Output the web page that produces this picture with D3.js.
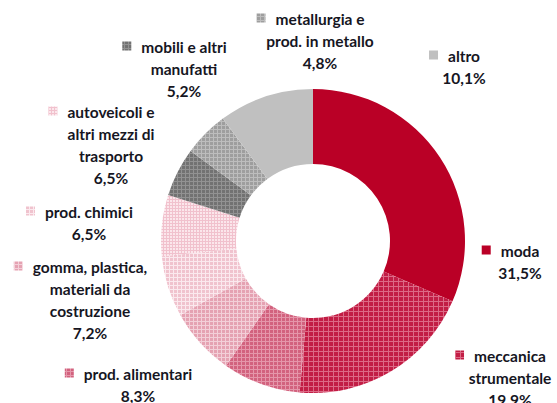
<!DOCTYPE html>
<html>
<head>
<meta charset="utf-8">
<script src="https://cdn.jsdelivr.net/npm/d3@7"></script>
<style>
  body { margin: 0; background: #fff; }
  svg text { font-family: Lato, "Open Sans", sans-serif; font-weight: bold; font-size: 15.5px; fill: #16161f; }
</style>
</head>
<body>
<div id="chart"></div>
<script>
// data, clockwise from 12 o'clock
var categories = ["moda", "meccanica strumentale", "prod. alimentari", "gomma, plastica, materiali da costruzione",
  "prod. chimici", "autoveicoli e altri mezzi di trasporto", "mobili e altri manufatti", "metallurgia e prod. in metallo", "altro"];
var values = [31.5, 19.9, 8.3, 7.2, 6.5, 6.5, 5.2, 4.8, 10.1];
var valueLabels = ["31,5%", "19,9%", "8,3%", "7,2%", "6,5%", "6,5%", "5,2%", "4,8%", "10,1%"];
var labelLines = [
  ["moda"],
  ["meccanica", "strumentale"],
  ["prod. alimentari"],
  ["gomma, plastica,", "materiali da", "costruzione"],
  ["prod. chimici"],
  ["autoveicoli e", "altri mezzi di", "trasporto"],
  ["mobili e altri", "manufatti"],
  ["metallurgia e", "prod. in metallo"],
  ["altro"]
];

// layout
var w = 557, h = 403;
var cx = 313, cy = 241, rOut = 152, rIn = 77;
var lineH = 21.7;
// label block centre x, first line centre y
var labelAt = [[520, 252], [510, 357], [138, 375], [90, 268], [89, 213], [111, 113], [184, 48], [320, 20], [464, 57]];

// fills: base colour, grid colour, grid step (0 = solid)
var fills = [
  ["#ba0026", null, 0],
  ["#c21d45", "#dc6a86", 5],
  ["#d2627e", "#e596aa", 4],
  ["#e5a2b2", "#f3cfd8", 4],
  ["#f0c3ce", "#fbe9ee", 4],
  ["#fbe6eb", "#f1c1cd", 3],
  ["#727272", "#929292", 4],
  ["#9e9e9e", "#bdbdbd", 4],
  ["#c0c0c0", null, 0]
];

var svg = d3.select("#chart").append("svg")
  .attr("width", w)
  .attr("height", h);

var defs = svg.append("defs");
fills.forEach(function(f, i) {
  if (!f[1]) return;
  var s = f[2];
  var p = defs.append("pattern")
    .attr("id", "pat" + i)
    .attr("patternUnits", "userSpaceOnUse")
    .attr("width", s)
    .attr("height", s);
  p.append("rect").attr("width", s).attr("height", s).attr("fill", f[0]);
  p.append("rect").attr("width", s).attr("height", 1).attr("fill", f[1]);
  p.append("rect").attr("width", 1).attr("height", s).attr("fill", f[1]);
});

function fillOf(i) {
  return fills[i][1] ? "url(#pat" + i + ")" : fills[i][0];
}

var pie = d3.pie().sort(null).value(function(d) { return d; });
var arc = d3.arc().innerRadius(rIn).outerRadius(rOut);

svg.append("g")
  .attr("transform", "translate(" + cx + "," + cy + ")")
  .selectAll("path")
  .data(pie(values))
  .enter().append("path")
  .attr("d", arc)
  .attr("fill", function(d, i) { return fillOf(i); });

// labels
categories.forEach(function(c, i) {
  var g = svg.append("g").attr("transform", "translate(" + labelAt[i][0] + "," + labelAt[i][1] + ")");
  var lines = labelLines[i].concat([valueLabels[i]]);
  var first;
  lines.forEach(function(t, k) {
    var tx = g.append("text")
      .attr("x", 0)
      .attr("y", k * lineH)
      .attr("dy", "0.35em")
      .attr("text-anchor", "middle")
      .text(t);
    if (k == 0) first = tx;
  });
  var tw = first.node().getComputedTextLength();
  var ms = 9;
  g.append("rect")
    .attr("x", -tw / 2 - 10 - ms)
    .attr("y", -ms / 2 - 2)
    .attr("width", ms)
    .attr("height", ms)
    .attr("fill", fillOf(i));
});
</script>
</body>
</html>
